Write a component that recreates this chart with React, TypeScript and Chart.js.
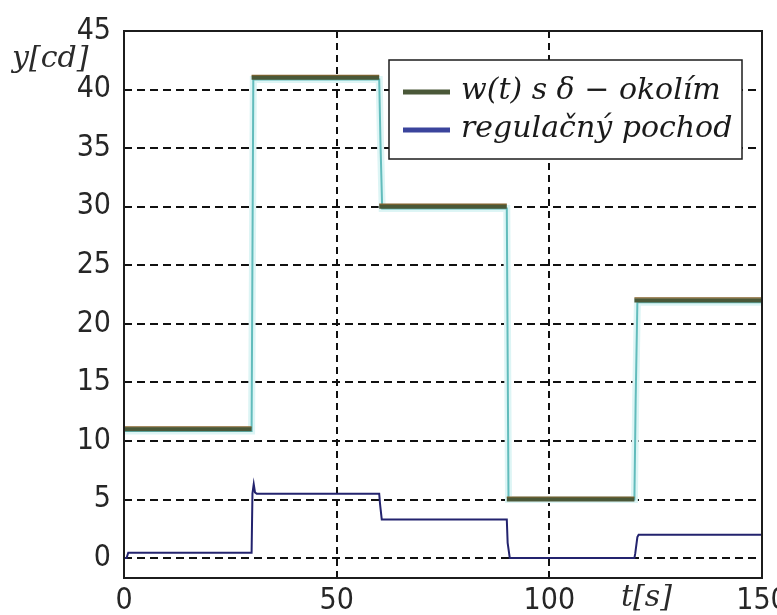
import React, { useEffect, useRef } from 'react';
import { Chart, registerables } from 'chart.js';

Chart.register(...registerables);

// ---- data ----
const stepTimes = [0, 30, 60, 90, 120, 150];
const setpointLevels = [11, 41, 30, 5, 22];
const deltaBand = 0.15;

const outputTimes = [0, 30, 30.4, 60, 60.3, 60.7, 90, 90.4, 120, 120.3, 120.7, 150];
const outputValues = [10.85, 10.85, 40.85, 40.85, 35.5, 29.85, 29.85, 5, 5, 13.6, 21.85, 21.85];

const controlTimes = [0, 0.6, 1.0, 30, 30.2, 30.5, 30.8, 31.2, 60, 60.2, 60.6, 90, 90.2, 90.7, 120, 120.2, 120.7, 121, 150];
const controlValues = [0, 0, 0.45, 0.45, 5.5, 6.3, 5.6, 5.5, 5.5, 4.6, 3.3, 3.3, 1.3, 0, 0, 0.4, 1.8, 2.0, 2.0];

const xTickValues = [0, 50, 100, 150];
const yTickValues = [0, 5, 10, 15, 20, 25, 30, 35, 40, 45];
const legendLabels = ['w(t) s δ − okolím', 'regulačný pochod'];
const xAxisTitle = 't[s]';
const yAxisTitle = 'y[cd]';

// ---- helpers ----
function stepSegments(offset: number) {
  const pts: { x: number; y: number | null }[] = [];
  setpointLevels.forEach((lvl, i) => {
    pts.push({ x: stepTimes[i], y: lvl + offset });
    pts.push({ x: stepTimes[i + 1], y: lvl + offset });
    if (i < setpointLevels.length - 1) pts.push({ x: stepTimes[i + 1], y: null });
  });
  return pts;
}
const zipXY = (xs: number[], ys: number[]) => xs.map((x, i) => ({ x, y: ys[i] }));

const OLIVE = '#4a5838';
const BROWN = '#86652f';
const NAVY = '#23236e';
const LEGEND_BLUE = '#3b449c';
const CYAN = '#62bcbc';
const CYAN_HALO = '#ddf5f5';
const TICK_FONT = '"DejaVu Sans Condensed", "Open Sans", sans-serif';

const decorPlugin = {
  id: 'decor',
  afterDatasetsDraw(chart: any) {
    const { ctx, chartArea: a } = chart;
    ctx.save();
    // frame
    ctx.strokeStyle = '#1c1c1c';
    ctx.lineWidth = 2;
    ctx.setLineDash([]);
    ctx.strokeRect(a.left, a.top, a.right - a.left, a.bottom - a.top);

    // legend box
    const bx = 389, by = 60, bw = 353, bh = 99;
    ctx.fillStyle = '#ffffff';
    ctx.fillRect(bx, by, bw, bh);
    ctx.lineWidth = 1.5;
    ctx.strokeStyle = '#1c1c1c';
    ctx.strokeRect(bx, by, bw, bh);
    const rows = [
      { y: 91, color: OLIVE, text: legendLabels[0] },
      { y: 129, color: LEGEND_BLUE, text: legendLabels[1] },
    ];
    ctx.font = 'italic 30px "DejaVu Serif"';
    ctx.textBaseline = 'middle';
    ctx.textAlign = 'left';
    rows.forEach((r) => {
      ctx.strokeStyle = r.color;
      ctx.lineWidth = 5;
      ctx.beginPath();
      ctx.moveTo(403, r.y + 1);
      ctx.lineTo(450, r.y + 1);
      ctx.stroke();
      ctx.fillStyle = '#1a1a1a';
      ctx.fillText(r.text, 461, r.y);
    });

    // axis titles
    ctx.font = 'italic 30px "DejaVu Serif"';
    ctx.fillStyle = '#2a2a2a';
    ctx.textBaseline = 'alphabetic';
    ctx.fillText(yAxisTitle, 12, 67);
    ctx.fillText(xAxisTitle, 621, 606);
    ctx.restore();
  },
};

export default function App() {
  const ref = useRef<HTMLCanvasElement>(null);
  useEffect(() => {
    const chart = new Chart(ref.current as HTMLCanvasElement, {
      type: 'line',
      data: {
        datasets: [
          {
            label: legendLabels[1],
            data: zipXY(controlTimes, controlValues),
            borderColor: NAVY,
            borderWidth: 2,
            pointRadius: 0,
            tension: 0,
            order: 0,
          },
          {
            label: legendLabels[0],
            data: stepSegments(0),
            borderColor: OLIVE,
            borderWidth: 4,
            pointRadius: 0,
            spanGaps: false,
            order: 1,
          },
          {
            label: 'w+δ',
            data: stepSegments(deltaBand + 0.05),
            borderColor: BROWN,
            borderWidth: 1.5,
            pointRadius: 0,
            spanGaps: false,
            order: 1,
          },
          {
            label: 'y(t)',
            data: zipXY(outputTimes, outputValues),
            borderColor: CYAN,
            borderWidth: 2,
            pointRadius: 0,
            order: 3,
          },
          {
            label: 'halo',
            data: zipXY(outputTimes, outputValues),
            borderColor: CYAN_HALO,
            borderWidth: 7,
            pointRadius: 0,
            order: 4,
          },
        ],
      },
      options: {
        animation: false,
        responsive: true,
        maintainAspectRatio: false,
        layout: { padding: { left: 0, right: 38, top: 29, bottom: 0 } },
        plugins: { legend: { display: false }, tooltip: { enabled: false } },
        scales: {
          x: {
            type: 'linear',
            min: 0,
            max: 150,
            afterBuildTicks: (s: any) => {
              s.ticks = xTickValues.map((v) => ({ value: v }));
            },
            afterFit: (s: any) => {
              s.height = 37;
            },
            grid: { color: '#111', lineWidth: 2, drawTicks: false },
            border: { display: false, dash: [7, 5] },
            ticks: {
              padding: 5,
              color: '#262626',
              font: { family: TICK_FONT, size: 30 },
              maxRotation: 0,
            },
          },
          y: {
            type: 'linear',
            min: -1.7,
            max: 45,
            afterBuildTicks: (s: any) => {
              s.ticks = yTickValues.map((v) => ({ value: v }));
            },
            afterFit: (s: any) => {
              s.width = 124;
            },
            grid: { color: '#111', lineWidth: 2, drawTicks: false },
            border: { display: false, dash: [8, 5] },
            ticks: {
              padding: 13,
              color: '#262626',
              font: { family: TICK_FONT, size: 30 },
            },
          },
        },
      },
      plugins: [decorPlugin],
    });
    return () => chart.destroy();
  }, []);

  return (
    <div
      style={{
        position: 'fixed',
        left: 0,
        top: 0,
        width: 777,
        height: 615,
        overflow: 'hidden',
        background: '#fff',
      }}
    >
      <div style={{ position: 'relative', width: 800, height: 615 }}>
        <canvas ref={ref} />
      </div>
    </div>
  );
}
